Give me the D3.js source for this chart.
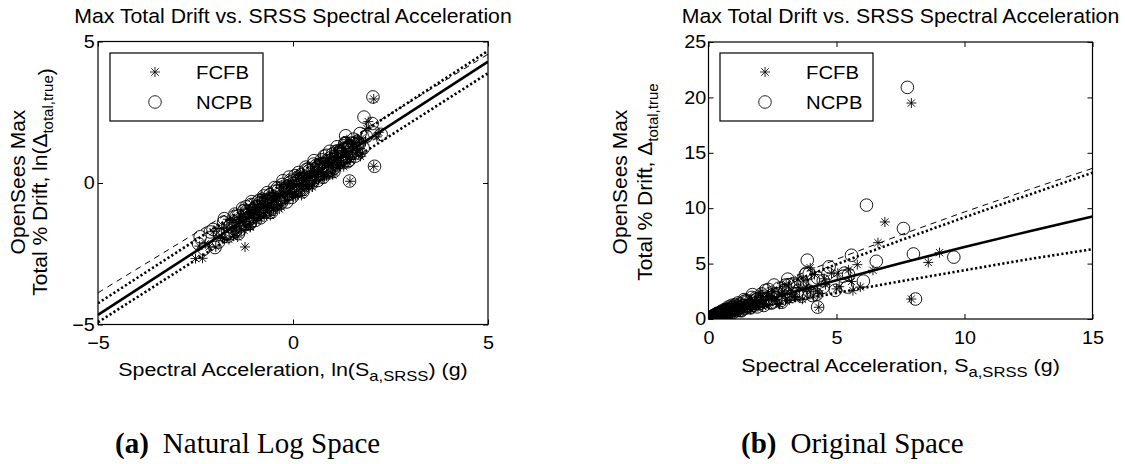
<!DOCTYPE html>
<html><head><meta charset="utf-8">
<script src="https://cdn.jsdelivr.net/npm/d3@7"></script>
<style>
body{margin:0;background:#fff}
svg{display:block}
text{font-family:"Liberation Sans",Arial,Helvetica,sans-serif;fill:#000}
text.cap{font-family:"Liberation Serif","Times New Roman",serif}
</style>
</head><body>
<svg id="c" width="1125" height="464"></svg>
<script>
// ---------- DATA (natural-log space) ----------
const fcfbLn = [
[-2.5,-2.67],[-2.4,-2.23],[-2.32,-2.66],[-2.25,-2.15],[-2.15,-2.26],[-2.05,-1.72],[-1.98,-2.26],[-1.9,-1.94],
[-1.83,-1.62],[-1.76,-1.96],[-1.7,-1.56],[-1.64,-2.0],[-1.58,-1.6],[-1.52,-1.3],[-1.47,-1.6],[-1.42,-1.91],
[-1.37,-1.29],[-1.32,-1.65],[-1.27,-1.1],[-1.22,-1.36],[-1.18,-1.49],[-1.14,-1.11],[-1.1,-1.57],[-1.06,-1.08],
[-1.02,-1.25],[-0.98,-0.76],[-0.94,-1.33],[-0.9,-1.04],[-0.86,-0.76],[-0.82,-1.12],[-0.78,-0.73],[-0.74,-1.2],
[-0.7,-0.81],[-0.66,-0.53],[-0.62,-0.84],[-0.58,-1.15],[-0.54,-0.55],[-0.5,-0.91],[-0.46,-0.38],[-0.42,-0.64],
[-0.38,-0.78],[-0.34,-0.39],[-0.3,-0.85],[-0.26,-0.37],[-0.22,-0.53],[-0.18,-0.05],[-0.14,-0.61],[-0.1,-0.33],
[-0.06,-0.04],[-0.02,-0.4],[0.02,-0.02],[0.06,-0.48],[0.1,-0.1],[0.14,0.19],[0.18,-0.12],[0.22,-0.44],
[0.26,0.17],[0.3,-0.2],[0.34,0.34],[0.38,0.08],[0.42,-0.06],[0.46,0.33],[0.5,-0.14],[0.54,0.35],
[0.58,0.18],[0.62,0.67],[0.66,0.11],[0.7,0.39],[0.74,0.68],[0.78,0.31],[0.82,0.7],[0.86,0.24],
[0.9,0.62],[0.94,0.91],[0.98,0.59],[1.02,0.28],[1.06,0.88],[1.1,0.52],[1.14,1.06],[1.18,0.79],
[1.22,0.66],[1.26,1.04],[1.3,0.58],[1.34,1.06],[1.38,0.9],[1.42,1.39],[1.47,0.83],[1.52,1.13],
[1.57,1.42],[1.63,1.07],[1.7,1.49],[1.78,1.06],[1.86,1.48],
[-1.55,-1.39],[-1.45,-1.7],[-1.35,-1.34],[-1.25,-1.68],[-1.15,-0.93],[-1.05,-1.25],[-0.95,-0.96],[-0.85,-1.25],
[-0.75,-0.51],[-0.65,-0.79],[-0.55,-0.86],[-0.45,-0.45],[-0.35,-0.92],[-0.25,-0.17],[-0.15,-0.38],[-0.05,-0.13],
[0.05,-0.4],[0.15,0.27],[0.25,-0.11],[0.35,0.15],[0.45,0.4],[0.55,0.09],[0.65,0.45],[0.75,0.11],
[0.85,0.86],[0.95,0.55],[1.05,0.84],[1.15,0.54],[1.25,1.28],[1.35,1.0],[1.45,0.93],
[-1.95,-1.61],[-1.81,-1.93],[-1.67,-1.28],[-1.53,-1.88],[-1.39,-1.21],[-1.29,-1.36],[-1.19,-0.89],[-1.09,-1.54],
[-0.99,-0.93],[-0.89,-1.22],[-0.79,-0.47],[-0.69,-0.96],[-0.59,-0.44],[-0.49,-0.98],[-0.39,-0.47],[-0.29,-0.07],
[-0.19,-0.63],[-0.09,-0.09],[0.01,-0.49],[0.11,0.31],[0.21,-0.22],[0.31,0.18],[0.41,-0.19],[0.51,0.57],
[0.61,0.22],[0.71,0.86],[0.81,0.25],[0.91,0.7],[1.01,0.32],[1.11,1.14],[1.21,0.71],[1.31,1.23],
[1.41,0.73],[1.51,1.29],[1.61,1.0],[1.76,1.59],
[-1.23,-2.26],[1.38,1.53],[1.62,1.42],[1.72,1.22],[1.73,0.94],[1.89,1.93],[1.93,2.17],[2.07,2.97],
[2.07,0.59],[2.15,1.63],[2.2,1.79],[1.46,0.06]
];
const ncpbLn = [
[-2.42,-2.15],[-2.28,-2.33],[-2.12,-1.73],[-2.0,-2.28],[-1.88,-1.82],[-1.78,-1.38],[-1.68,-1.89],[-1.6,-1.47],
[-1.53,-1.6],[-1.46,-1.19],[-1.4,-1.79],[-1.34,-1.28],[-1.29,-0.89],[-1.24,-1.44],[-1.19,-1.0],[-1.15,-1.21],
[-1.11,-1.43],[-1.07,-0.76],[-1.03,-1.23],[-0.99,-0.89],[-0.95,-0.84],[-0.91,-1.1],[-0.87,-0.61],[-0.83,-1.23],
[-0.79,-0.84],[-0.75,-0.46],[-0.71,-1.02],[-0.67,-0.63],[-0.63,-0.8],[-0.59,-0.41],[-0.55,-1.03],[-0.51,-0.54],
[-0.47,-0.16],[-0.43,-0.72],[-0.39,-0.28],[-0.35,-0.5],[-0.31,-0.71],[-0.27,-0.05],[-0.23,-0.51],[-0.19,-0.18],
[-0.15,-0.12],[-0.11,-0.38],[-0.07,0.1],[-0.03,-0.51],[0.01,-0.13],[0.05,0.26],[0.09,-0.3],[0.13,0.08],
[0.17,-0.08],[0.21,0.3],[0.25,-0.31],[0.29,0.17],[0.33,0.56],[0.37,0.0],[0.41,0.43],[0.45,0.22],
[0.49,0.0],[0.53,0.67],[0.57,0.21],[0.61,0.54],[0.65,0.6],[0.69,0.33],[0.73,0.82],[0.77,0.2],
[0.81,0.59],[0.85,0.98],[0.89,0.41],[0.93,0.8],[0.97,0.63],[1.01,1.02],[1.05,0.41],[1.09,0.89],
[1.13,1.28],[1.17,0.71],[1.21,1.15],[1.25,0.93],[1.29,0.72],[1.33,1.39],[1.37,0.92],[1.41,1.26],
[1.45,1.31],[1.5,1.06],[1.55,1.55],[1.6,0.95],[1.66,1.35],[1.72,1.75],[1.8,1.23],[1.88,1.65],
[-1.5,-1.71],[-1.4,-1.16],[-1.3,-1.33],[-1.2,-0.84],[-1.1,-1.43],[-1.0,-0.96],[-0.9,-0.67],[-0.8,-0.98],
[-0.7,-0.59],[-0.6,-1.04],[-0.5,-0.55],[-0.4,-0.18],[-0.3,-0.59],[-0.2,-0.2],[-0.1,0.21],[0.0,-0.23],
[0.1,0.16],[0.2,-0.23],[0.3,0.14],[0.4,0.51],[0.5,0.08],[0.6,0.63],[0.7,0.46],[0.8,0.95],
[0.9,0.36],[1.0,0.83],[1.1,1.12],[1.2,0.81],[1.3,1.2],[1.4,0.75],[1.5,1.24],
[-2.05,-1.64],[-1.91,-2.09],[-1.76,-1.26],[-1.63,-1.54],[-1.49,-1.1],[-1.36,-1.65],[-1.26,-0.98],[-1.16,-1.27],
[-1.06,-0.66],[-0.96,-1.32],[-0.86,-0.72],[-0.76,-0.85],[-0.66,-0.34],[-0.56,-0.91],[-0.46,-0.29],[-0.36,-0.6],
[-0.26,0.08],[-0.16,-0.67],[-0.06,0.03],[0.04,-0.09],[0.14,0.37],[0.24,-0.24],[0.34,0.47],[0.44,0.14],
[0.54,0.79],[0.64,0.09],[0.74,0.69],[0.84,0.57],[0.94,1.12],[1.04,0.51],[1.14,1.13],[1.24,0.83],
[1.34,1.42],[1.44,0.8],[1.54,1.41],[1.7,1.39],
[-2.38,-1.9],[1.35,1.67],[1.37,1.41],[1.45,0.07],[1.67,1.42],[1.69,1.06],[1.82,2.33],[2.03,2.1],
[2.05,3.04],[2.08,1.77],[2.09,0.59],[2.26,1.72]
];
const seriesNames = ["FCFB", "NCPB"];

// fitted lines
const lnLineX   = [-5, 5];
const lnFitY    = [-4.66, 4.29];
const lnUpperY  = [-4.25, 4.67];
const lnLowerY  = [-4.92, 3.88];
const lnDashY   = [-3.88, 4.55];
const origLineX  = [0, 0.5, 1, 2, 3, 5, 7.5, 10, 12.5, 15];
const origFitY   = [0, 0.45, 0.83, 1.54, 2.22, 3.5, 5.04, 6.5, 7.9, 9.25];
const origUpperY = [0, 0.63, 1.17, 2.18, 3.13, 4.94, 7.1, 9.18, 11.2, 13.2];
const origLowerY = [0, 0.3, 0.56, 1.04, 1.5, 2.36, 3.4, 4.4, 5.4, 6.3];
const origDashY  = [0, 0.78, 1.39, 2.49, 3.5, 5.39, 7.59, 9.66, 11.66, 13.6];

// ticks
const lnTicks = [-5, 0, 5];
const origXTicks = [0, 5, 10, 15];
const origYTicks = [0, 5, 10, 15, 20, 25];

const titleText = "Max Total Drift vs. SRSS Spectral Acceleration";

// ---------- DRAW ----------
const svg = d3.select("#c");

function starPath(r) {
  const d = r * 0.72;
  return `M${-r},0L${r},0M0,${-r}L0,${r}M${-d},${-d}L${d},${d}M${-d},${d}L${d},${-d}`;
}
const STAR_R = 5, CIRC_R = 6.3;
const MARK = "#000";

function drawStars(g, pts, x, y) {
  g.selectAll(null).data(pts).enter().append("path")
    .attr("transform", d => `translate(${x(d[0])},${y(d[1])})`)
    .attr("d", starPath(STAR_R)).attr("fill", "none")
    .attr("stroke", MARK).attr("stroke-width", 0.9);
}
function drawCircles(g, pts, x, y) {
  g.selectAll(null).data(pts).enter().append("circle")
    .attr("cx", d => x(d[0])).attr("cy", d => y(d[1])).attr("r", CIRC_R)
    .attr("fill", "none").attr("stroke", MARK).attr("stroke-width", 0.9);
}

function stretchedText(parent, x, y, sx, size, anchor, parts, subSize, subShift) {
  const t = parent.append("text")
    .attr("transform", `translate(${x},${y}) scale(${sx},1)`)
    .attr("font-size", size).attr("text-anchor", anchor);
  let shifted = false;
  parts.forEach(p => {
    if (p.sub !== undefined) {
      t.append("tspan").attr("font-size", subSize).attr("dy", subShift).text(p.sub);
      shifted = true;
    } else {
      const ts = t.append("tspan").text(p.t);
      if (shifted) { ts.attr("dy", -subShift); shifted = false; }
    }
  });
  return t;
}
function rotatedText(parent, x, y, size, parts, subSize, subShift) {
  const t = parent.append("text")
    .attr("transform", `translate(${x},${y}) rotate(-90)`)
    .attr("font-size", size).attr("text-anchor", "middle");
  parts.forEach(p => {
    if (p.sub !== undefined) t.append("tspan").attr("font-size", subSize).attr("dy", subShift).text(p.sub);
    else t.append("tspan").text(p.t);
  });
}

function panel(cfg) {
  const g = svg.append("g");
  const x = d3.scaleLinear().domain(cfg.xd).range(cfg.xr);
  const y = d3.scaleLinear().domain(cfg.yd).range(cfg.yr);
  const clipId = "clip" + cfg.id;
  svg.append("clipPath").attr("id", clipId).append("rect")
    .attr("x", cfg.xr[0]).attr("y", cfg.yr[1])
    .attr("width", cfg.xr[1] - cfg.xr[0]).attr("height", cfg.yr[0] - cfg.yr[1]);
  const plot = g.append("g").attr("clip-path", `url(#${clipId})`);

  drawCircles(plot, cfg.ncpb, x, y);
  drawStars(plot, cfg.fcfb, x, y);

  const line = (xs, ys) => d3.line().x((d, i) => x(xs[i])).y((d, i) => y(ys[i]))(xs);
  plot.append("path").attr("d", line(cfg.lx, cfg.dash)).attr("fill", "none")
    .attr("stroke", "#000").attr("stroke-width", 1).attr("stroke-dasharray", "6,5");
  plot.append("path").attr("d", line(cfg.lx, cfg.upper)).attr("fill", "none")
    .attr("stroke", "#000").attr("stroke-width", 2.6).attr("stroke-dasharray", "2.2,2.4");
  plot.append("path").attr("d", line(cfg.lx, cfg.lower)).attr("fill", "none")
    .attr("stroke", "#000").attr("stroke-width", 2.6).attr("stroke-dasharray", "2.2,2.4");
  plot.append("path").attr("d", line(cfg.lx, cfg.fit)).attr("fill", "none")
    .attr("stroke", "#000").attr("stroke-width", 2.6);

  // box
  g.append("rect").attr("x", cfg.xr[0]).attr("y", cfg.yr[1])
    .attr("width", cfg.xr[1] - cfg.xr[0]).attr("height", cfg.yr[0] - cfg.yr[1])
    .attr("fill", "none").attr("stroke", "#000").attr("stroke-width", 1.2);

  // axes (ticks inside)
  const ax = (gen, tx, ty) => {
    const a = g.append("g").attr("transform", `translate(${tx},${ty})`).call(gen);
    a.select(".domain").remove();
    a.selectAll(".tick line").attr("stroke", "#000");
    return a;
  };
  const bx = ax(d3.axisBottom(x).tickValues(cfg.xt).tickSize(-5).tickPadding(cfg.xpad).tickFormat(d3.format("d")), 0, cfg.yr[0]);
  bx.selectAll("text").attr("font-size", 18).attr("fill", "#000").attr("transform", "scale(1.1,1)");
  ax(d3.axisTop(x).tickValues(cfg.xt).tickSize(-5).tickFormat(""), 0, cfg.yr[1]);
  const ly = ax(d3.axisLeft(y).tickValues(cfg.yt).tickSize(-5).tickPadding(cfg.ypad).tickFormat(d3.format("d")), cfg.xr[0], 0);
  ly.selectAll("text").attr("font-size", 18).attr("fill", "#000").attr("transform", "scale(1.1,1)");
  ax(d3.axisRight(y).tickValues(cfg.yt).tickSize(-5).tickFormat(""), cfg.xr[1], 0);

  // title
  const cx = (cfg.xr[0] + cfg.xr[1]) / 2;
  stretchedText(g, cx, 23, 1.09, 19.5, "middle", [{t: titleText}]);
  // x label
  stretchedText(g, cx, cfg.xlabY, 1.19, 18, "middle", cfg.xlab, 14, 5);
  // y label
  rotatedText(g, cfg.yl1, 182, 21, [{t: "OpenSees Max"}]);
  rotatedText(g, cfg.yl2, 182, 21, cfg.ylab, 15, 6);

  // legend
  const L = g.append("g");
  L.append("rect").attr("x", cfg.legX).attr("y", 53).attr("width", 153).attr("height", 68)
    .attr("fill", "#fff").attr("stroke", "#000").attr("stroke-width", 1.2);
  L.append("path").attr("transform", `translate(${cfg.legX + 45},72)`).attr("d", starPath(STAR_R))
    .attr("fill", "none").attr("stroke", "#111").attr("stroke-width", 0.9);
  L.append("circle").attr("cx", cfg.legX + 45).attr("cy", 102).attr("r", CIRC_R)
    .attr("fill", "none").attr("stroke", "#111").attr("stroke-width", 0.9);
  stretchedText(L, cfg.legX + 86, 79, 1.07, 19, "start", [{t: seriesNames[0]}]);
  stretchedText(L, cfg.legX + 86, 109, 1.07, 19, "start", [{t: seriesNames[1]}]);
}

panel({
  id: "a", xd: [-5, 5], yd: [-5, 5], xr: [98, 488], yr: [324.5, 41.5],
  xt: lnTicks, yt: lnTicks, xpad: 11.5, ypad: 3,
  fcfb: fcfbLn, ncpb: ncpbLn,
  lx: lnLineX, fit: lnFitY, upper: lnUpperY, lower: lnLowerY, dash: lnDashY,
  xlabY: 376,
  xlab: [{t: "Spectral Acceleration, ln(S"}, {sub: "a,SRSS"}, {t: ") (g)"}],
  yl1: 25, yl2: 47,
  ylab: [{t: "Total % Drift, ln(\u0394"}, {sub: "total,true"}, {t: ")"}],
  legX: 110
});

panel({
  id: "b", xd: [0, 15], yd: [0, 25], xr: [708.5, 1092.5], yr: [319, 42],
  xt: origXTicks, yt: origYTicks, xpad: 12, ypad: 2,
  fcfb: fcfbLn.map(d => [Math.exp(d[0]), Math.exp(d[1])]),
  ncpb: ncpbLn.map(d => [Math.exp(d[0]), Math.exp(d[1])]),
  lx: origLineX, fit: origFitY, upper: origUpperY, lower: origLowerY, dash: origDashY,
  xlabY: 372,
  xlab: [{t: "Spectral Acceleration, S"}, {sub: "a,SRSS"}, {t: " (g)"}],
  yl1: 627, yl2: 652,
  ylab: [{t: "Total % Drift, \u0394"}, {sub: "total,true"}],
  legX: 720
});

// captions
const cap = (x, label, rest) => {
  const t = svg.append("text").attr("class", "cap").attr("x", x).attr("y", 453)
    .attr("font-size", 29);
  t.append("tspan").attr("font-weight", "bold").text(label);
  t.append("tspan").attr("dx", 14).text(rest);
};
cap(115, "(a)", "Natural Log Space");
cap(741, "(b)", "Original Space");
</script>
</body></html>
